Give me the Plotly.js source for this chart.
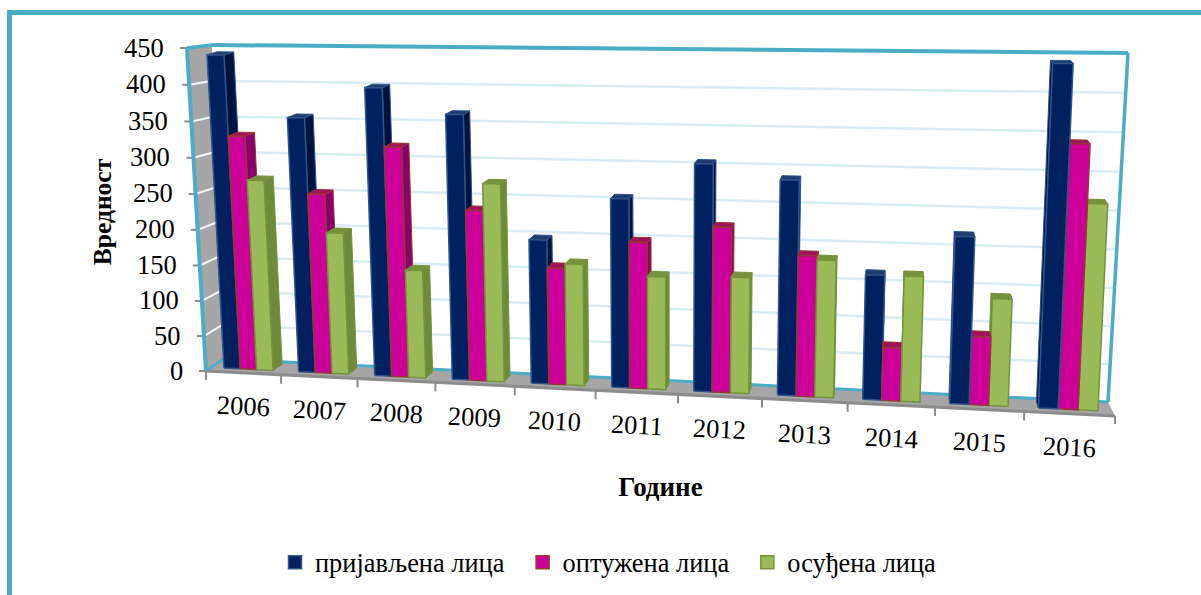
<!DOCTYPE html>
<html>
<head>
<meta charset="utf-8">
<script src="https://cdn.plot.ly/plotly-3.0.1.min.js"></script>
<style>html,body{margin:0;padding:0;background:#fff;overflow:hidden}#chart{width:1201px;height:595px}</style>
</head>
<body>
<div id="chart"></div>
<script>
const years = ['2006','2007','2008','2009','2010','2011','2012','2013','2014','2015','2016'];
const reported  = [438,352,395,360,193,251,300,281,161,214,436];
const accused   = [325,247,314,230,156,194,217,183,68,87,335];
const convicted = [264,194,146,267,162,149,152,178,161,136,260];
const valueTicks = [0,50,100,150,200,250,300,350,400,450];
const seriesNames = ['пријављена лица','оптужена лица','осуђена лица'];

const styles = [
  {front:'#002060', side:'#00133f', top:'#1d3c70', edge:'#2f5488'},
  {front:'#cc0099', side:'#8a0068', top:'#a3105c', edge:'#953735'},
  {front:'#9bbb59', side:'#6f8a3a', top:'#76923c', edge:'#76923c'}
];
const TEAL='#4bacc6', GRID='#d9ebf3', FLOOR='#a6a6a6', AXIS='#8c8c8c', SERIF='"Liberation Serif", serif';

// Plot-area box and the value axis calibration
const box = {l:120, r:1201, t:0, b:424};
const zeroY = 371, pxPerUnit = 0.72;
const yVal = py => (zeroY - py) / pxPerUnit;

// Oblique 3-D projection of the Excel-style chart
const persp = u => { const w = 0.9; return u*w / (1-u+u*w); };
const barX = t => 211.4 + 902*persp(t/years.length);
const barBaseY = X => 368 + 0.049*(X-224);
const barScale = X => 0.715 + 0.0000923*(X-224);
const project = (t, v) => {
  const X = barX(t);
  return [X + (X-665)*0.0394*v/450, barBaseY(X) - barScale(X)*v];
};
const deepen = p => [p[0] + (900-p[0])*0.0144, p[1] - (p[1]+267)*0.0093];
const mix = (a,b,k) => [a[0]+(b[0]-a[0])*k, a[1]+(b[1]-a[1])*k];
const wallK = v => { const k = v/450; return k - 0.03*k*(1-k); };

const FL0=[206,371], FR0=[1115,416], BL0=[223,359], BR0=[1108,402];
const FL1=[187,48],  BL1=[212,45],  BR1=[1128,53];

const traces = [];
const poly = (pts, fill, lineColor, lineW) => traces.push({
  type:'scatter', mode:'lines', x:pts.concat([pts[0]]).map(p=>p[0]), y:pts.concat([pts[0]]).map(p=>yVal(p[1])),
  fill:'toself', fillcolor:fill, line:{color:lineColor, width:lineW}, cliponaxis:false, showlegend:false, hoverinfo:'skip'
});
const seg = (a, b, color, w) => traces.push({
  type:'scatter', mode:'lines', x:[a[0],b[0]], y:[yVal(a[1]),yVal(b[1])],
  line:{color:color, width:w}, cliponaxis:false, showlegend:false, hoverinfo:'skip'
});

// Walls and floor
poly([FL1,BL1,BL0,FL0], FLOOR, FLOOR, 0);
poly([FL0,FR0,BR0,BL0], FLOOR, FLOOR, 0);
valueTicks.forEach(v => {
  const k = wallK(v);
  if (v>0 && v<450) seg(mix(BL0,BL1,k), mix(BR0,BR1,k), GRID, 2.5);
  if (v>0 && v<450) seg(mix(FL0,FL1,k), mix(BL0,BL1,k), '#f2f7fa', 2);
  const f = mix(FL0,FL1,k);
  seg([f[0]-7,f[1]], f, AXIS, 2);
});
seg(BL0,BR0,TEAL,3);
seg(BL1,BR1,TEAL,4);
seg(BR0,BR1,TEAL,3.5);
seg(FL0,FL1,TEAL,4);
seg(FL1,BL1,TEAL,3.5);
seg(FL0,BL0,TEAL,2.5);
seg(FL0,FR0,AXIS,3);
for (let i=0;i<=years.length;i++){
  const p = mix(FL0,FR0,persp(i/years.length));
  seg(p,[p[0],p[1]+9],AXIS,2);
}

// Bars
const series = [reported, accused, convicted];
const vanish = 900;
function drawBar(i, k){
  const step = 0.66/3, t0 = i+0.17+k*step, t1 = t0+step, v = series[k][i], s = styles[k];
  const a=project(t0,0), b=project(t1,0), c=project(t1,v), d=project(t0,v);
  if (barX(t1) < vanish) poly([b,c,deepen(c),deepen(b)], s.side, s.edge, 1);
  else poly([a,d,deepen(d),deepen(a)], s.side, s.edge, 1);
  poly([d,c,deepen(c),deepen(d)], s.top, s.edge, 1);
  poly([a,b,c,d], s.front, s.edge, 1.5);
}
years.forEach((y,i)=>{
  const order = barX(i+0.5) < vanish ? [0,1,2] : [2,1,0];
  order.forEach(k=>drawBar(i,k));
});

// Legend entries
seriesNames.forEach((n,k)=>traces.push({
  type:'scatter', mode:'markers', name:n+'\u00a0'.repeat(k===2?0:2), x:[null], y:[null],
  marker:{symbol:'square', size:13, color:styles[k].front, line:{color:styles[k].edge, width:1.5}},
  cliponaxis:false, hoverinfo:'skip'
}));

// Axis labels that follow the slanted edges
const px = x => (x-box.l)/(box.r-box.l), py = y => (box.b-y)/(box.b-box.t);
const annotations = [];
valueTicks.forEach(v=>{
  const f = mix(FL0,FL1,wallK(v));
  annotations.push({xref:'paper',yref:'paper',x:px(f[0]-21),y:py(f[1]-0.5),text:String(v),showarrow:false,xanchor:'right',yanchor:'middle',
    font:{family:SERIF,size:26.5,color:'#000'}});
});
years.forEach((y,i)=>{
  const p = mix(FL0,FR0,persp((i+0.5)/years.length));
  annotations.push({xref:'paper',yref:'paper',x:px(p[0]),y:py(p[1]+33),text:y,showarrow:false,textangle:2.8,xanchor:'center',yanchor:'middle',
    font:{family:SERIF,size:26.5,color:'#000'}});
});

// Outer frame
const shapes = [
  {type:'rect',xref:'paper',yref:'paper',x0:px(7),x1:px(1201),y0:py(10),y1:py(15),fillcolor:TEAL,line:{width:0},layer:'below'},
  {type:'rect',xref:'paper',yref:'paper',x0:px(7),x1:px(12),y0:py(10),y1:py(595),fillcolor:TEAL,line:{width:0},layer:'below'}
];

const layout = {
  width:1201, height:595, paper_bgcolor:'#fff', plot_bgcolor:'rgba(0,0,0,0)',
  margin:{l:box.l, r:1201-box.r, t:box.t, b:595-box.b, pad:0},
  font:{family:SERIF,color:'#000'},
  showlegend:true,
  legend:{orientation:'h', x:px(275), xanchor:'left', y:py(562.5), yanchor:'middle', font:{family:SERIF,size:26.4,color:'#000'}, bgcolor:'rgba(0,0,0,0)', itemclick:false, itemdoubleclick:false},
  xaxis:{range:[box.l,box.r], showgrid:false, zeroline:false, showline:false, ticks:'', showticklabels:false, fixedrange:true,
    title:{text:'Године', font:{family:SERIF,size:27,color:'#000',weight:'bold'}, standoff:53}, automargin:false},
  yaxis:{range:[yVal(box.b),yVal(box.t)], showgrid:false, zeroline:false, showline:false, ticks:'', showticklabels:false, fixedrange:true,
    tickvals:valueTicks,
    title:{text:'Вредност', font:{family:SERIF,size:25.5,color:'#000',weight:'bold'}, standoff:0}, automargin:false},
  annotations, shapes
};
Plotly.newPlot('chart', traces, layout, {displayModeBar:false, staticPlot:true});
</script>
</body>
</html>
